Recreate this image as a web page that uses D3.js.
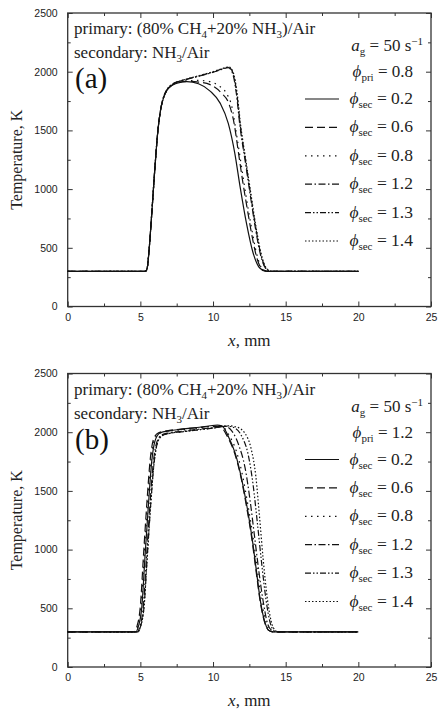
<!DOCTYPE html>
<html>
<head>
<meta charset="utf-8">
<script src="https://cdn.jsdelivr.net/npm/d3@7"></script>
<style>
  body { margin: 0; background: #fff; }
  svg { display: block; }
</style>
</head>
<body>
<div id="chart"></div>
<script>
// Axis ticks
const xTicks = [0, 5, 10, 15, 20, 25];
const xMinorTicks = [2.5, 7.5, 12.5, 17.5, 22.5];
const yTicks = [0, 500, 1000, 1500, 2000, 2500];
const yMinorTicks = [250, 750, 1250, 1750, 2250];

// Labels
const panelLabels = ['(a)', '(b)'];
const phiPriValues = ['0.8', '1.2'];
const phiSecValues = ['0.2', '0.6', '0.8', '1.2', '1.3', '1.4'];

// Panel (a), phi_pri = 0.8 — [x mm, T K]
const aSec02 = [[0,300],[5.3,300],[5.4,305],[5.5,350],[5.6,480],[5.8,820],[6.0,1180],[6.2,1490],[6.4,1680],[6.6,1780],[6.85,1845],[7.2,1885],[7.6,1905],[8.2,1915],[9.0,1897],[9.8,1835],[10.5,1730],[11.05,1560],[11.5,1305],[11.85,1030],[12.3,710],[12.75,460],[13.2,330],[13.6,302],[14,300],[20,300]];
const aSec06 = [[0,300],[5.3,300],[5.4,305],[5.5,350],[5.6,480],[5.8,820],[6.0,1180],[6.2,1490],[6.4,1680],[6.6,1780],[6.85,1845],[7.2,1888],[7.6,1908],[8.2,1918],[9.0,1912],[9.8,1890],[10.6,1815],[11.05,1740],[11.45,1560],[11.75,1310],[12.05,1060],[12.4,800],[12.7,590],[13.05,400],[13.45,310],[13.8,300],[20,300]];
const aSec08 = [[0,300],[5.3,300],[5.4,305],[5.5,350],[5.6,480],[5.8,820],[6.0,1180],[6.2,1490],[6.4,1680],[6.6,1780],[6.85,1845],[7.2,1890],[7.6,1910],[8.2,1922],[9.0,1926],[9.8,1915],[10.4,1880],[10.9,1820],[11.3,1700],[11.6,1480],[11.95,1200],[12.3,920],[12.65,670],[13.0,450],[13.4,320],[13.8,300],[20,300]];
const aSec12 = [[0,300],[5.3,300],[5.4,305],[5.5,350],[5.6,480],[5.8,820],[6.0,1180],[6.2,1490],[6.4,1680],[6.6,1785],[6.85,1850],[7.2,1893],[7.6,1915],[8.2,1935],[9.0,1960],[10.0,1995],[10.6,2020],[11.05,2035],[11.35,1985],[11.6,1820],[11.85,1540],[12.2,1250],[12.55,960],[12.9,680],[13.25,450],[13.65,320],[14.0,300],[20,300]];
const aSec13 = [[0,300],[5.3,300],[5.4,305],[5.5,350],[5.6,480],[5.8,820],[6.0,1180],[6.2,1490],[6.4,1680],[6.6,1785],[6.85,1850],[7.2,1893],[7.6,1916],[8.2,1937],[9.0,1963],[10.0,1998],[10.6,2022],[11.08,2038],[11.38,1988],[11.63,1820],[11.88,1540],[12.23,1250],[12.58,960],[12.93,680],[13.28,450],[13.68,320],[14.0,300],[20,300]];
const aSec14 = [[0,300],[5.3,300],[5.4,305],[5.5,350],[5.6,480],[5.8,820],[6.0,1180],[6.2,1490],[6.4,1680],[6.6,1785],[6.85,1850],[7.2,1893],[7.6,1916],[8.2,1938],[9.0,1965],[10.0,2000],[10.6,2025],[11.1,2040],[11.4,1990],[11.65,1825],[11.9,1545],[12.25,1255],[12.6,965],[12.95,685],[13.3,455],[13.7,322],[14.05,300],[20,300]];

// Panel (b), phi_pri = 1.2 — [x mm, T K]
const bSec02 = [[0,300],[4.7,300],[4.85,340],[5.1,510],[5.33,960],[5.56,1390],[5.79,1760],[6.02,1930],[6.36,1995],[7.0,2012],[7.74,2024],[8.9,2040],[9.8,2055],[10.3,2061],[10.6,2055],[11.07,1960],[11.53,1820],[11.99,1590],[12.34,1365],[12.68,1105],[12.98,825],[13.25,570],[13.6,370],[13.85,310],[14.1,300],[20,300]];
const bSec06 = [[0,300],[4.6,300],[4.75,340],[5.0,520],[5.22,960],[5.45,1400],[5.68,1770],[5.92,1945],[6.25,1995],[7.0,2015],[8.0,2028],[9.0,2040],[10.0,2050],[10.5,2045],[11.0,1960],[11.5,1815],[11.95,1600],[12.3,1370],[12.65,1110],[12.95,830],[13.22,580],[13.55,380],[13.85,310],[14.1,300],[20,300]];
const bSec08 = [[0,300],[4.65,300],[4.8,340],[5.05,520],[5.27,960],[5.5,1400],[5.73,1765],[5.97,1935],[6.3,1990],[7.0,2010],[8.0,2022],[9.0,2035],[10.0,2048],[10.6,2048],[11.1,1975],[11.6,1840],[12.05,1620],[12.4,1380],[12.75,1110],[13.05,830],[13.32,580],[13.65,380],[13.95,310],[14.2,300],[20,300]];
const bSec12 = [[0,300],[4.8,300],[4.95,340],[5.2,510],[5.43,950],[5.66,1380],[5.9,1750],[6.12,1910],[6.45,1975],[7.0,1995],[8.0,2010],[9.0,2025],[10.0,2038],[10.8,2050],[11.3,2010],[11.8,1880],[12.2,1700],[12.55,1420],[12.85,1120],[13.15,820],[13.45,560],[13.75,370],[14.05,310],[14.3,300],[20,300]];
const bSec13 = [[0,300],[4.85,300],[5.0,340],[5.25,510],[5.48,950],[5.71,1380],[5.95,1745],[6.17,1905],[6.5,1970],[7.0,1990],[8.0,2005],[9.0,2020],[10.0,2035],[11.0,2052],[11.5,2035],[12.0,1960],[12.4,1820],[12.75,1560],[13.05,1230],[13.35,880],[13.65,570],[13.95,370],[14.25,305],[14.4,300],[20,300]];
const bSec14 = [[0,300],[4.85,300],[5.0,340],[5.25,510],[5.48,950],[5.71,1380],[5.95,1745],[6.17,1905],[6.5,1970],[7.0,1990],[8.0,2005],[9.0,2020],[10.0,2035],[11.0,2055],[11.6,2045],[12.2,1990],[12.6,1870],[12.95,1620],[13.2,1280],[13.45,920],[13.72,600],[14.0,390],[14.3,310],[14.5,300],[20,300]];

const panelSeries = [
  [aSec02, aSec06, aSec08, aSec12, aSec13, aSec14],
  [bSec02, bSec06, bSec08, bSec12, bSec13, bSec14],
];

// line styles, one per phi_sec
const dashStyles = ['none', '8,4', '1.5,4.5', '7,2.5,1.5,2.5', '6,2,1.5,2,1.5,2', '1.5,2'];

const W = 442, H = 713;
const serif = "'Liberation Serif', 'Times New Roman', serif";
const sans = "'Liberation Sans', Arial, sans-serif";

const svg = d3.select('#chart').append('svg')
  .attr('width', W).attr('height', H);

const plotLeft = 67.7, plotRight = 431;
const panelTops = [13, 373.5];
const plotH = 293.5;

const x = d3.scaleLinear().domain([0, 25]).range([plotLeft, plotRight]);
const fmt = (d) => String(d);

panelSeries.forEach((series, pi) => {
  const top = panelTops[pi];
  const y = d3.scaleLinear().domain([0, 2500]).range([top + plotH, top]);
  const g = svg.append('g');

  // axes, ticks inward on all four sides
  const styleAxis = (sel) => {
    sel.select('.domain').remove();
    sel.selectAll('line').attr('stroke', '#333').attr('stroke-width', 1);
    sel.selectAll('text').attr('font-family', sans).attr('font-size', 10.5).attr('fill', '#222');
  };
  g.append('g').attr('transform', `translate(0,${top + plotH})`)
    .call(d3.axisBottom(x).tickValues(xTicks).tickSize(-5).tickPadding(7).tickFormat(fmt)).call(styleAxis);
  g.append('g').attr('transform', `translate(0,${top + plotH})`)
    .call(d3.axisBottom(x).tickValues(xMinorTicks).tickSize(-3).tickFormat('')).call(styleAxis);
  g.append('g').attr('transform', `translate(0,${top})`)
    .call(d3.axisTop(x).tickValues(xTicks).tickSize(-5).tickFormat('')).call(styleAxis);
  g.append('g').attr('transform', `translate(0,${top})`)
    .call(d3.axisTop(x).tickValues(xMinorTicks).tickSize(-3).tickFormat('')).call(styleAxis);
  g.append('g').attr('transform', `translate(${plotLeft},0)`)
    .call(d3.axisLeft(y).tickValues(yTicks).tickSize(-5).tickPadding(10).tickFormat(fmt)).call(styleAxis);
  g.append('g').attr('transform', `translate(${plotLeft},0)`)
    .call(d3.axisLeft(y).tickValues(yMinorTicks).tickSize(-3).tickFormat('')).call(styleAxis);
  g.append('g').attr('transform', `translate(${plotRight},0)`)
    .call(d3.axisRight(y).tickValues(yTicks).tickSize(-5).tickFormat('')).call(styleAxis);
  g.append('g').attr('transform', `translate(${plotRight},0)`)
    .call(d3.axisRight(y).tickValues(yMinorTicks).tickSize(-3).tickFormat('')).call(styleAxis);

  g.append('rect')
    .attr('x', plotLeft).attr('y', top)
    .attr('width', plotRight - plotLeft).attr('height', plotH)
    .attr('fill', 'none').attr('stroke', '#333').attr('stroke-width', 1.3);

  // curves
  const line = d3.line()
    .x((d) => x(d[0]))
    .y((d) => y(d[1]))
    .curve(d3.curveMonotoneX);
  series.forEach((s, si) => {
    g.append('path')
      .datum(s)
      .attr('d', line)
      .attr('fill', 'none')
      .attr('stroke', '#111')
      .attr('stroke-width', 1.2)
      .attr('stroke-dasharray', dashStyles[si]);
  });

  // axis titles
  g.append('text')
    .attr('transform', `translate(22,${top + plotH / 2}) rotate(-90)`)
    .attr('text-anchor', 'middle')
    .attr('font-family', serif).attr('font-size', 16).attr('fill', '#222')
    .text('Temperature, K');
  const xt = g.append('text')
    .attr('x', (plotLeft + plotRight) / 2).attr('y', top + plotH + 39)
    .attr('text-anchor', 'middle')
    .attr('font-family', serif).attr('font-size', 17).attr('fill', '#222');
  xt.append('tspan').attr('font-style', 'italic').text('x');
  xt.append('tspan').text(', mm');

  // mixture text
  const t1 = g.append('text').attr('x', 74).attr('y', top + 21)
    .attr('font-family', serif).attr('font-size', 17).attr('fill', '#222');
  t1.append('tspan').text('primary: (80% CH');
  t1.append('tspan').attr('font-size', 11).attr('dy', 4).text('4');
  t1.append('tspan').attr('dy', -4).text('+20% NH');
  t1.append('tspan').attr('font-size', 11).attr('dy', 4).text('3');
  t1.append('tspan').attr('dy', -4).text(')/Air');

  const t2 = g.append('text').attr('x', 74).attr('y', top + 45)
    .attr('font-family', serif).attr('font-size', 17).attr('fill', '#222');
  t2.append('tspan').text('secondary: NH');
  t2.append('tspan').attr('font-size', 11).attr('dy', 4).text('3');
  t2.append('tspan').attr('dy', -4).text('/Air');

  g.append('text').attr('x', 75).attr('y', top + 75)
    .attr('font-family', serif).attr('font-size', 29).attr('fill', '#111')
    .text(panelLabels[pi]);

  // conditions, right aligned
  const ag = g.append('text').attr('x', 423).attr('y', top + 38)
    .attr('text-anchor', 'end')
    .attr('font-family', serif).attr('font-size', 17).attr('fill', '#222');
  ag.append('tspan').attr('font-style', 'italic').text('a');
  ag.append('tspan').attr('font-size', 11).attr('dy', 4).text('g');
  ag.append('tspan').attr('dy', -4).text(' = 50 s');
  ag.append('tspan').attr('font-size', 11).attr('dy', -6).text('\u22121');

  const pp = g.append('text').attr('x', 413).attr('y', top + 64)
    .attr('text-anchor', 'end')
    .attr('font-family', serif).attr('font-size', 17).attr('fill', '#222');
  pp.append('tspan').attr('font-style', 'italic').text('\u03D5');
  pp.append('tspan').attr('font-size', 11).attr('dy', 4).text('pri');
  pp.append('tspan').attr('dy', -4).text(' = ' + phiPriValues[pi]);

  // legend
  const rowY0 = top + 91, rowStep = 28.4;
  phiSecValues.forEach((v, i) => {
    const ry = rowY0 + i * rowStep;
    g.append('line')
      .attr('x1', 305).attr('x2', 339)
      .attr('y1', ry - 5).attr('y2', ry - 5)
      .attr('stroke', '#111').attr('stroke-width', 1.2)
      .attr('stroke-dasharray', dashStyles[i]);
    const lt = g.append('text').attr('x', 413).attr('y', ry)
      .attr('text-anchor', 'end')
      .attr('font-family', serif).attr('font-size', 17.5).attr('fill', '#222');
    lt.append('tspan').attr('font-style', 'italic').text('\u03D5');
    lt.append('tspan').attr('font-size', 11).attr('dy', 4).text('sec');
    lt.append('tspan').attr('dy', -4).text(' = ' + v);
  });
});
</script>
</body>
</html>
